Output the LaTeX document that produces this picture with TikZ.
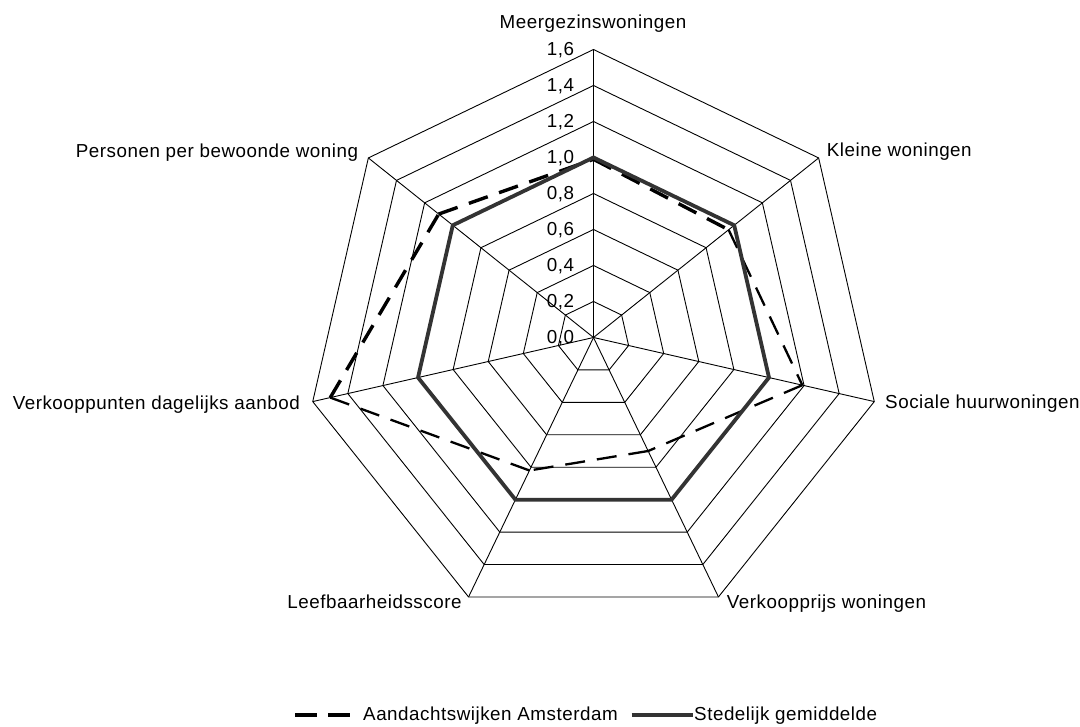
\documentclass[tikz,border=0pt]{standalone}
\usepackage{fontspec}
\setmainfont{Liberation Sans}[LetterSpace=2.8]
\definecolor{solidgray}{HTML}{333333}
\begin{document}
\begin{tikzpicture}[x=1pt,y=-1pt,
  gridline/.style={draw=black,line width=0.9pt},
  lbl/.style={inner sep=0pt,font=\fontsize{18.8}{22}\selectfont},
  ticklbl/.style={lbl,anchor=base east},
  stedelijk/.style={draw=solidgray,line width=3.8pt,line join=miter},
  aandthick/.style={draw=black,line width=3.4pt,dash pattern=on 20pt off 12pt},
  aandthin/.style={draw=black,line width=2.3pt,dash pattern=on 20pt off 12pt}]
\useasboundingbox (0,0) rectangle (1080,727);
\def\cx{593.5}\def\cy{337.5}\def\u{180}
\coordinate (c) at (\cx,\cy);
% grid rings
\foreach \i in {1,...,8}{
  \foreach \k in {0,...,6}{
    \pgfmathsetmacro\ang{\k*360/7-90}
    \pgfmathsetmacro\rad{\i*0.2*\u}
    \coordinate (g\i-\k) at ({\cx+\rad*cos(\ang)},{\cy+\rad*sin(\ang)});
  }
  \draw[gridline] (g\i-0)--(g\i-1)--(g\i-2)--(g\i-3)--(g\i-4)--(g\i-5)--(g\i-6)--cycle;
}
\foreach \k in {0,...,6}{\draw[gridline] (c) -- (g8-\k);}
% tick labels
\foreach \i/\t in {0/{0,0},1/{0,2},2/{0,4},3/{0,6},4/{0,8},5/{1,0},6/{1,2},7/{1,4},8/{1,6}}{
  \node[ticklbl] (tick\i) at (574.3,{\cy-\i*0.2*\u+5.7}) {\t};
}
% data of Aandachtswijken
\foreach \k/\v in {0/0.99,1/0.96,2/1.19,3/0.70,4/0.82,5/1.50,6/1.10}{
  \pgfmathsetmacro\ang{\k*360/7-90}
  \pgfmathsetmacro\rad{\v*\u}
  \coordinate (a\k) at ({\cx+\rad*cos(\ang)},{\cy+\rad*sin(\ang)});
}
\draw[aandthin] (a1) -- (a2);
\draw[aandthin] (a2) -- (a3);
\draw[aandthin] (a3) -- (a4);
\draw[aandthin] (a4) -- (a5);
\draw[aandthick] (a5) -- (a6);
\draw[aandthick] (a6) -- (a0);
\draw[aandthick] (a0) -- (a1);
% Stedelijk gemiddelde (all 1.0)
\draw[stedelijk] (g5-0)--(g5-1)--(g5-2)--(g5-3)--(g5-4)--(g5-5)--(g5-6)--cycle;
% axis labels
\node[lbl,anchor=base] (meer) at (593,28.3) {Meergezinswoningen};
\node[lbl,anchor=base west] (klein) at (826.7,156.7) {Kleine woningen};
\node[lbl,anchor=base west] (soc) at (885,408.3) {Sociale huurwoningen};
\node[lbl,anchor=base west] (vkp) at (726.7,608.3) {Verkoopprijs woningen};
\node[lbl,anchor=base] (leef) at (374.5,608.3) {Leefbaarheidsscore};
\node[lbl,anchor=base east] (vpt) at (300,409.3) {Verkooppunten dagelijks aanbod};
\node[lbl,anchor=base east] (pers) at (358.3,157.3) {Personen per bewoonde woning};
% legend
\coordinate (la1) at (295,715);
\coordinate (la2) at (350,715);
\draw[draw=black,line width=3.5pt,dash pattern=on 21.7pt off 11.6pt] (la1) -- (la2);
\node[lbl,anchor=base west] (leg1) at (363,720) {Aandachtswijken Amsterdam};
\coordinate (ls1) at (631.7,715);
\coordinate (ls2) at (693.3,715);
\draw[draw=solidgray,line width=3.8pt] (ls1) -- (ls2);
\node[lbl,anchor=base west] (leg2) at (694,720) {Stedelijk gemiddelde};
\end{tikzpicture}
\end{document}
